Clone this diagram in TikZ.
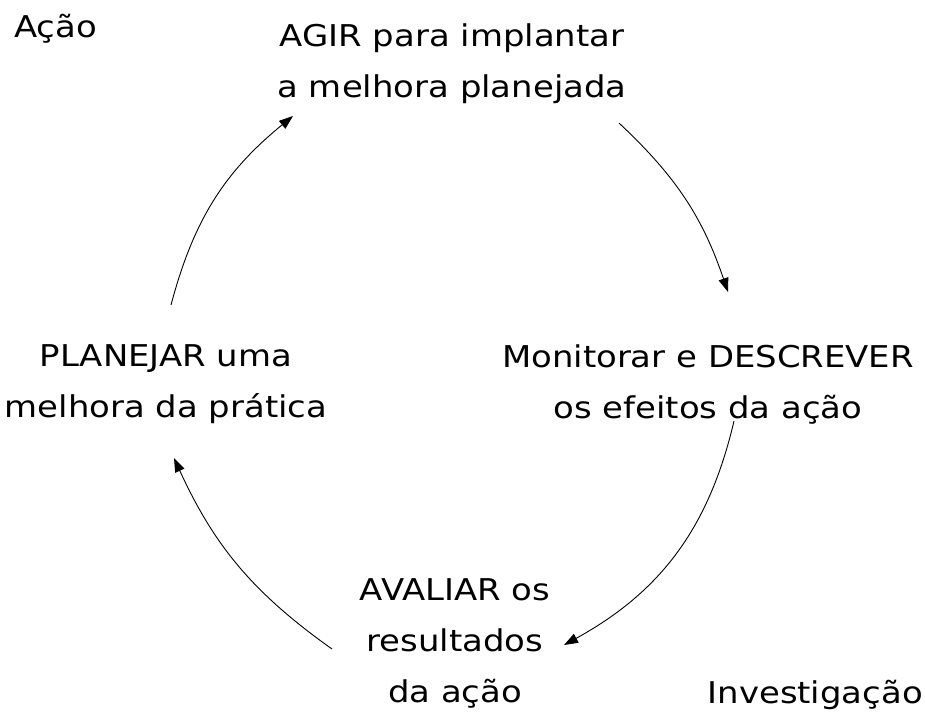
\documentclass[tikz,border=0pt]{standalone}
\usepackage{fontspec}
\setmainfont{DejaVu Sans}[FakeStretch=1.13]
\usetikzlibrary{arrows.meta}
\begin{document}
\begin{tikzpicture}[x=1pt,y=-1pt,
  lbl/.style={font=\fontsize{30}{51}\selectfont, align=center, inner sep=0pt},
  arr/.style={line width=0.9pt, -{Triangle[length=14pt,width=10pt]}}]
\useasboundingbox (0,0) rectangle (925,724);
\node[lbl, anchor=base west] (acao) at (14,37) {Ação};
\node[lbl] (agir) at (452,64) {AGIR para implantar\\a melhora planejada};
\node[lbl] (plan) at (166,384) {PLANEJAR uma\\melhora da prática};
\node[lbl] (mon) at (708,384) {Monitorar e DESCREVER\\os efeitos da ação};
\node[lbl] (aval) at (455,643) {AVALIAR os\\resultados\\da ação};
\node[lbl, anchor=base east] (inv) at (923,703) {Investigação};
\coordinate (a1s) at (171,305); \coordinate (a1e) at (293,116);
\coordinate (a2s) at (619,123); \coordinate (a2e) at (728,292);
\coordinate (a3s) at (734,421); \coordinate (a3e) at (564,645);
\coordinate (a4s) at (332,649); \coordinate (a4e) at (174,458);
\draw[arr] (a1s) to[bend left=18] (a1e);
\draw[arr] (a2s) to[bend left=14] (a2e);
\draw[arr] (a3s) to[bend left=24] (a3e);
\draw[arr] (a4s) to[bend left=15] (a4e);
\end{tikzpicture}
\end{document}
